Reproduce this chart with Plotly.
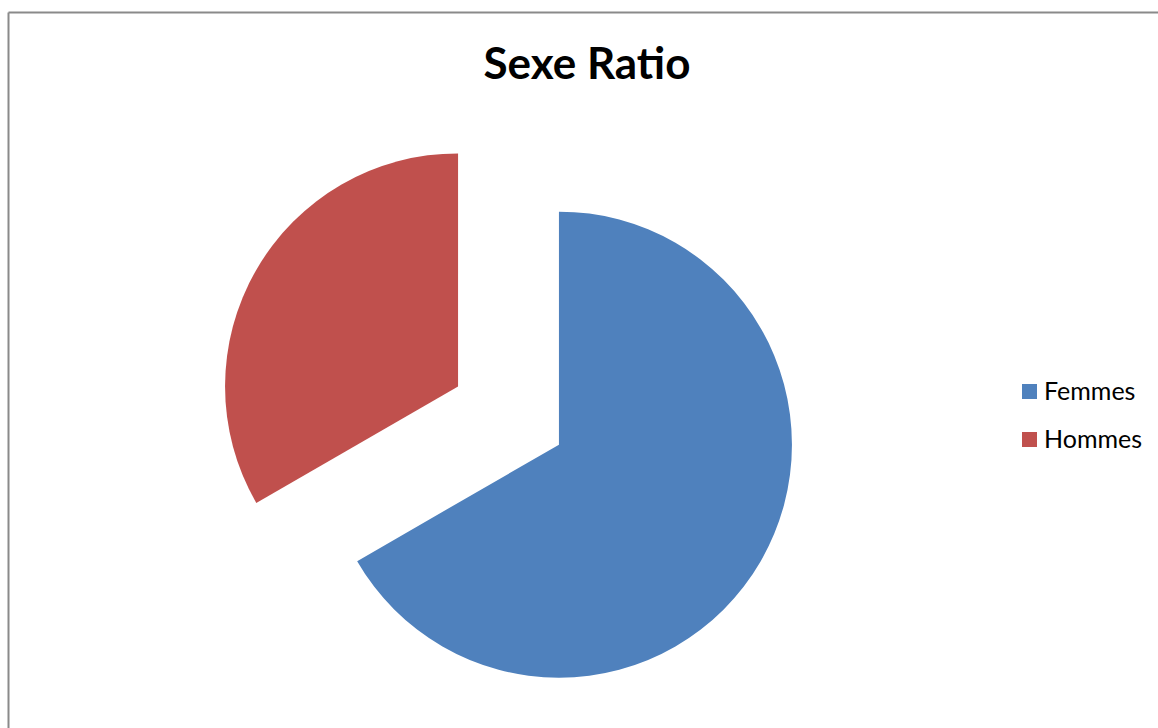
import plotly.graph_objects as go

labels = ["Femmes", "Hommes"]
values = [20, 10]
colors = ["#4F81BD", "#C0504D"]
title_text = "Sexe Ratio"

W, H = 1158, 728

fig = go.Figure()
fig.add_trace(go.Pie(
    labels=labels,
    values=values,
    marker=dict(colors=colors, line=dict(width=0)),
    pull=[0.25, 0.25],
    sort=False,
    direction="clockwise",
    rotation=0,
    textinfo="none",
    hoverinfo="label+percent",
    showlegend=False,
    domain=dict(x=[217.25 / W, 799.75 / W], y=[21.25 / H, 603.75 / H]),
))

shapes = [
    dict(type="line", xref="paper", yref="paper", x0=8.5 / W, x1=1.0, y0=1 - 12.5 / H, y1=1 - 12.5 / H,
         line=dict(color="#8a8a8a", width=2)),
    dict(type="line", xref="paper", yref="paper", x0=8.5 / W, x1=8.5 / W, y0=1 - 12.5 / H, y1=0,
         line=dict(color="#8a8a8a", width=2)),
]
annotations = []
legend_y = [391.5, 439.5]
for lab, col, yc in zip(labels, colors, legend_y):
    shapes.append(dict(type="rect", xref="paper", yref="paper",
                       x0=1022 / W, x1=1037 / W, y0=1 - (yc - 7.5) / H, y1=1 - (yc + 7.5) / H,
                       fillcolor=col, line=dict(width=0)))
    annotations.append(dict(text=lab, xref="paper", yref="paper", x=1041.5 / W, y=1 - (yc - 1.5) / H,
                            xanchor="left", yanchor="middle", showarrow=False,
                            font=dict(family="Lato", size=25, color="#000000")))

fig.update_layout(
    width=W, height=H,
    margin=dict(l=0, r=0, t=0, b=0),
    paper_bgcolor="white",
    plot_bgcolor="white",
    title=dict(text="<b>" + title_text + "</b>", x=587 / W, xanchor="center",
               y=1 - 64 / H, yanchor="middle", yref="container",
               font=dict(family="Lato", size=44, color="#000000")),
    shapes=shapes,
    annotations=annotations,
)

fig.write_html("out.html")
